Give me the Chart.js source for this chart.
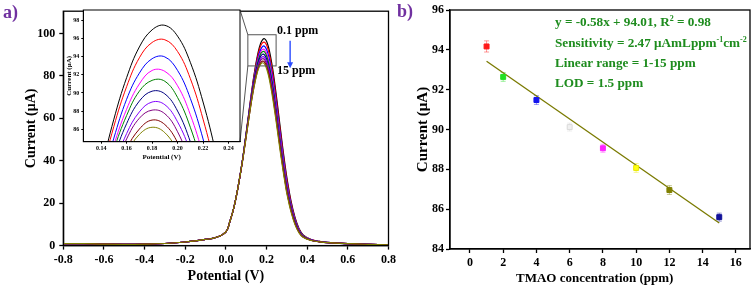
<!DOCTYPE html>
<html lang="en">
<head>
<meta charset="UTF-8">
<title>TMAO - DPV and calibration</title>
<script src="https://cdn.jsdelivr.net/npm/chart.js@4"></script>
<style>
  body { margin: 0; width: 755px; height: 291px; background: #fff; position: relative; overflow: hidden;
         font-family: 'Liberation Serif', 'Times New Roman', serif; font-weight: bold; }
  canvas { position: absolute; }
  .txt { position: absolute; white-space: nowrap; line-height: 14px; font-size: 12px; }
  .panel { position: absolute; color: #7030a0; font-size: 18px; line-height: 20px; }
  .fit { color: #1e8c1e; font-size: 13.2px; }
  sup { font-size: 8px; vertical-align: 5px; line-height: 0; }
</style>
</head>
<body>
<canvas id="dpv" width="410" height="291" style="left:0;top:0"></canvas>
<canvas id="calib" width="360" height="291" style="left:395px;top:0"></canvas>
<canvas id="zoom" width="186" height="158" style="left:64px;top:4px"></canvas>

<div class="panel" style="left:3px;top:2px">a)</div>
<div class="panel" style="left:397px;top:1px">b)</div>
<div class="txt" style="left:277px;top:23px">0.1 ppm</div>
<div class="txt" style="left:277px;top:63px">15 ppm</div>
<div class="txt fit" style="left:555px;top:15px">y = -0.58x + 94.01, R<sup>2</sup> = 0.98</div>
<div class="txt fit" style="left:555px;top:36px">Sensitivity = 2.47 &mu;AmLppm<sup>-1</sup>cm<sup>-2</sup></div>
<div class="txt fit" style="left:555px;top:56px">Linear range = 1-15 ppm</div>
<div class="txt fit" style="left:555px;top:76px">LOD = 1.5 ppm</div>
<div class="txt" style="left:516px;top:271px;font-size:13px">TMAO concentration (ppm)</div>

<script>
// ---------------- panel a : DPV curves ----------------
const potential = [-0.8,-0.7,-0.6,-0.5,-0.4,-0.3,-0.2,-0.15,-0.1,-0.05,0,0.02,0.04,0.06,
  0.08,0.09,0.1,0.11,0.12,0.13,0.14,0.15,0.16,0.17,0.18,0.19,0.2,0.21,0.22,0.23,0.24,0.25,0.26,0.27,0.28,0.29,0.3,
  0.32,0.34,0.36,0.38,0.42,0.46,0.5,0.6,0.7,0.8];

const curveBlack = [0.9,0.9,0.7,0.6,0.7,1.0,1.7,2.2,2.9,3.8,6.5,11.5,18.3,27.7,
  39.2,46.0,53.3,60.6,67.9,75.0,81.4,87.1,91.7,95.1,97.0,97.5,96.3,93.4,89.0,83.4,76.7,69.3,61.5,53.6,45.9,38.7,32.0,
  21.2,13.3,8.0,5.0,2.8,2.0,1.5,0.9,0.6,0.4];
const curveRed = [0.9,0.9,0.7,0.6,0.7,1.0,1.7,2.2,2.9,3.8,6.5,11.5,18.3,27.7,
  39.2,46.0,53.2,60.4,67.6,74.5,80.8,86.3,90.7,93.9,95.6,95.9,94.6,91.6,87.1,81.5,74.8,67.5,59.8,52.0,44.5,37.4,30.9,
  20.4,12.8,7.7,4.8,2.8,2.0,1.5,0.9,0.6,0.4];
const curveBlue = [0.9,0.9,0.7,0.6,0.7,1.0,1.7,2.2,2.9,3.8,6.5,11.5,18.3,27.7,
  39.1,45.8,52.8,59.9,67.0,73.7,79.8,85.0,89.3,92.2,93.8,94.0,92.5,89.4,84.9,79.2,72.6,65.4,57.8,50.3,42.9,36.0,29.6,
  19.6,12.3,7.4,4.7,2.7,2.0,1.5,0.9,0.6,0.4];
const curveMagenta = [0.9,0.9,0.7,0.6,0.7,1.0,1.7,2.2,2.9,3.8,6.5,11.5,18.3,27.7,
  39.2,45.8,52.7,59.7,66.6,73.2,79.1,84.2,88.2,91.0,92.5,92.4,90.8,87.6,83.1,77.4,70.8,63.6,56.2,48.8,41.5,34.8,28.6,
  19.0,11.9,7.2,4.6,2.7,1.9,1.4,0.9,0.6,0.4];
const curveGreen = [0.9,0.9,0.7,0.6,0.7,1.0,1.7,2.2,2.9,3.8,6.5,11.5,18.3,27.7,
  39.3,45.9,52.8,59.7,66.5,72.9,78.7,83.7,87.5,90.2,91.4,91.3,89.5,86.2,81.6,75.9,69.3,62.2,54.8,47.4,40.4,33.7,27.7,
  18.5,11.6,7.0,4.5,2.6,1.9,1.4,0.9,0.6,0.4];
const curveNavy = [0.9,0.9,0.7,0.6,0.7,1.0,1.7,2.2,2.9,3.8,6.5,11.5,18.3,27.7,
  39.4,46.0,52.7,59.6,66.2,72.5,78.2,82.9,86.6,89.1,90.2,89.9,88.0,84.6,80.0,74.2,67.7,60.6,53.3,46.1,39.1,32.6,26.8,
  17.9,11.2,6.8,4.3,2.6,1.9,1.4,0.9,0.6,0.4];
const curveViolet = [0.9,0.9,0.7,0.6,0.7,1.0,1.7,2.2,2.9,3.8,6.5,11.5,18.3,27.7,
  38.9,45.3,52.0,58.8,65.4,71.5,77.1,81.8,85.5,87.9,89.0,88.7,86.8,83.5,78.9,73.2,66.8,59.8,52.6,45.5,38.6,32.2,26.4,
  17.5,10.9,6.6,4.2,2.5,1.8,1.4,0.9,0.6,0.4];
const curvePurple = [0.9,0.9,0.7,0.6,0.7,1.0,1.7,2.2,2.9,3.8,6.5,11.5,18.3,27.7,
  39.1,45.5,52.1,58.8,65.3,71.4,76.8,81.4,84.9,87.2,88.1,87.7,85.7,82.2,77.5,71.8,65.4,58.4,51.3,44.3,37.5,31.3,25.6,
  17.0,10.6,6.4,4.1,2.5,1.8,1.4,0.9,0.6,0.4];
const curveWine = [0.9,0.9,0.7,0.6,0.7,1.0,1.7,2.2,2.9,3.8,6.5,11.5,18.3,27.7,
  38.6,44.9,51.5,58.0,64.4,70.4,75.8,80.3,83.8,86.0,87.0,86.5,84.5,81.1,76.5,70.9,64.5,57.7,50.7,43.7,37.1,30.9,25.2,
  16.6,10.3,6.2,4.0,2.4,1.8,1.4,0.9,0.6,0.4];
const curveOlive = [0.9,0.9,0.7,0.6,0.7,1.0,1.7,2.2,2.9,3.8,6.5,11.5,18.3,27.7,
  38.9,45.1,51.6,58.1,64.5,70.4,75.6,80.0,83.3,85.4,86.2,85.6,83.5,80.0,75.3,69.6,63.3,56.5,49.5,42.6,36.1,30.0,24.5,
  16.0,9.9,6.0,3.9,2.4,1.8,1.4,0.9,0.6,0.4];

const curves = [curveBlack, curveRed, curveBlue, curveMagenta, curveGreen,
                curveNavy, curveViolet, curvePurple, curveWine, curveOlive];
const curveColors = ['#000000','#ff0000','#0000ff','#ff00ff','#008000',
                     '#000080','#8000ff','#800080','#800000','#808000'];

const potTicks = [-0.8,-0.6,-0.4,-0.2,0,0.2,0.4,0.6,0.8];
const curTicks = [0,20,40,60,80,100];
const insetPotTicks = [0.14,0.16,0.18,0.2,0.22,0.24];
const insetCurTicks = [86,88,90,92,94,96,98];
const zoomBoxV = [0.108, 0.247];   // region shown in the inset
const zoomBoxI = [84.7, 99.4];
const arrowV = 0.316, arrowI = [96.6, 83.6];

// ---------------- panel b : calibration ----------------
const concPpm = [1, 2, 4, 6, 8, 10, 12, 15];
const peakCurrent = [94.17, 92.64, 91.48, 90.12, 89.06, 88.07, 86.96, 85.6];
const errCurrent = [0.28, 0.22, 0.22, 0.2, 0.2, 0.22, 0.22, 0.2];
const pointColors = ['#ff1a1a','#22e022','#1414ee','#f0f0f0','#ff22ff','#ffff10','#808000','#12129a'];
const pointEdges  = ['#ff1a1a','#22e022','#1414ee','#dadada','#ff22ff','#e8e800','#808000','#12129a'];
const fitX = [1, 15];
const fitY = [93.43, 85.31];
const concTicks = [0,2,4,6,8,10,12,14,16];
const calTicks = [84,86,88,90,92,94,96];

const serif = "'Liberation Serif', 'Times New Roman', serif";
const toXY = (xs, ys) => xs.map((v, i) => ({x: v, y: ys[i]}));
const setTicks = list => scale => { scale.ticks = list.map(v => ({value: v})); };

const framePlugin = {
  id: 'frame',
  afterDraw(chart) {
    const {ctx, chartArea: a} = chart;
    ctx.save();
    ctx.strokeStyle = '#000';
    ctx.lineWidth = chart.canvas.id === 'zoom' ? 1 : 1.3;
    ctx.strokeRect(a.left, a.top, a.right - a.left, a.bottom - a.top);
    ctx.restore();
  }
};

function axisOpts(o) {
  return {
    type: 'linear', min: o.min, max: o.max,
    afterBuildTicks: setTicks(o.ticks),
    afterFit: s => { if (o.w) s.width = o.w; if (o.h) s.height = o.h; },
    grid: {drawOnChartArea: false, drawTicks: true, tickLength: o.tl, color: '#000', tickWidth: o.lw},
    border: {display: true, color: '#000', width: o.lw},
    ticks: {color: '#000', padding: o.pad, font: {family: serif, size: o.fs, weight: 'bold'},
            maxRotation: 0, autoSkip: false, callback: o.fmt},
    title: {display: !!o.title, text: o.title, color: '#000',
            font: {family: serif, size: o.tfs, weight: 'bold'}, padding: o.tpad}
  };
}

const marksPlugin = {
  id: 'marks',
  afterDatasetsDraw(chart) {
    const {ctx, scales: {x, y}} = chart;
    ctx.save();
    const x1 = x.getPixelForValue(zoomBoxV[0]), x2 = x.getPixelForValue(zoomBoxV[1]);
    const y1 = y.getPixelForValue(zoomBoxI[1]), y2 = y.getPixelForValue(zoomBoxI[0]);
    ctx.strokeStyle = '#555'; ctx.lineWidth = 1;
    ctx.strokeRect(x1, y1, x2 - x1, y2 - y1);
    const ax = x.getPixelForValue(arrowV);
    const ya = y.getPixelForValue(arrowI[0]), yb = y.getPixelForValue(arrowI[1]);
    ctx.strokeStyle = '#2b4cff'; ctx.fillStyle = '#2b4cff'; ctx.lineWidth = 1.4;
    ctx.beginPath(); ctx.moveTo(ax, ya); ctx.lineTo(ax, yb - 5); ctx.stroke();
    ctx.beginPath(); ctx.moveTo(ax - 3, yb - 6); ctx.lineTo(ax + 3, yb - 6); ctx.lineTo(ax, yb); ctx.closePath(); ctx.fill();
    ctx.restore();
  }
};

const dpvChart = new Chart(document.getElementById('dpv'), {
  type: 'scatter',
  data: {
    datasets: curves.map((c, i) => ({
      label: 'scan ' + (i + 1), data: toXY(potential, c), showLine: true,
      borderColor: curveColors[i], borderWidth: 1.2, pointRadius: 0, tension: 0.4, order: 9 - i
    }))
  },
  options: {
    responsive: false, animation: false, devicePixelRatio: 1,
    layout: {padding: {top: 7, right: 21.5, left: 0, bottom: 0}},
    plugins: {legend: {display: false}, tooltip: {enabled: false}},
    scales: {
      x: axisOpts({min: -0.8, max: 0.8, ticks: potTicks, h: 45.4, tl: 4, pad: 3, fs: 12, lw: 1.3,
                   fmt: v => v.toFixed(1), title: 'Potential (V)', tfs: 14, tpad: {top: 0, bottom: 6}}),
      y: axisOpts({min: 0, max: 110.5, ticks: curTicks, w: 63.3, tl: 4, pad: 4, fs: 12, lw: 1.3,
                   fmt: v => v, title: 'Current (\u03bcA)', tfs: 14, tpad: {top: 23, bottom: 0}})
    }
  },
  plugins: [framePlugin, marksPlugin]
});

// inset
const insetLeft = 64, insetTop = 4;
const insetPlugin = {
  id: 'inset',
  beforeDraw(chart) {
    const {ctx, chartArea: a} = chart;
    ctx.save(); ctx.fillStyle = '#fff';
    ctx.fillRect(a.left, a.top, a.right - a.left, a.bottom - a.top);
    ctx.restore();
  },
  afterDraw(chart) {
    const {ctx, chartArea: a} = chart;
    const mx = dpvChart.scales.x, my = dpvChart.scales.y;
    const bx = mx.getPixelForValue(zoomBoxV[0]) - insetLeft;
    const bt = my.getPixelForValue(zoomBoxI[1]) - insetTop;
    const bb = my.getPixelForValue(zoomBoxI[0]) - insetTop;
    ctx.save(); ctx.strokeStyle = '#555'; ctx.lineWidth = 1;
    ctx.beginPath();
    ctx.moveTo(a.right, a.top); ctx.lineTo(bx, bt);
    ctx.moveTo(a.right, a.bottom); ctx.lineTo(bx, bb);
    ctx.stroke(); ctx.restore();
  }
};

new Chart(document.getElementById('zoom'), {
  type: 'scatter',
  data: {
    datasets: curves.map((c, i) => ({
      data: toXY(potential, c), showLine: true,
      borderColor: curveColors[i], borderWidth: 1, pointRadius: 0, tension: 0.4
    }))
  },
  options: {
    responsive: false, animation: false, devicePixelRatio: 1,
    layout: {padding: {top: 6, right: 10, left: 0, bottom: 0}},
    plugins: {legend: {display: false}, tooltip: {enabled: false}},
    scales: {
      x: axisOpts({min: 0.126, max: 0.249, ticks: insetPotTicks, h: 20.3, tl: 2, pad: 1, fs: 6, lw: 1,
                   fmt: v => v.toFixed(2), title: 'Potential (V)', tfs: 7, tpad: {top: 0, bottom: 1}}),
      y: axisOpts({min: 84.6, max: 99.2, ticks: insetCurTicks, w: 19.3, tl: 2, pad: 2, fs: 6, lw: 1,
                   fmt: v => v, title: 'Current (\u03bcA)', tfs: 7, tpad: {top: 1, bottom: 0}})
    }
  },
  plugins: [insetPlugin, framePlugin]
});

// calibration
const errorBarPlugin = {
  id: 'errbars',
  beforeDatasetsDraw(chart) {
    const {ctx, scales: {x, y}} = chart;
    ctx.save(); ctx.lineWidth = 1; ctx.globalAlpha = 0.45;
    concPpm.forEach((c, i) => {
      const px = x.getPixelForValue(c);
      const yt = y.getPixelForValue(peakCurrent[i] + errCurrent[i]);
      const yb = y.getPixelForValue(peakCurrent[i] - errCurrent[i]);
      ctx.strokeStyle = pointEdges[i];
      ctx.beginPath();
      ctx.moveTo(px, yt); ctx.lineTo(px, yb);
      ctx.moveTo(px - 2.5, yt); ctx.lineTo(px + 2.5, yt);
      ctx.moveTo(px - 2.5, yb); ctx.lineTo(px + 2.5, yb);
      ctx.stroke();
    });
    ctx.restore();
  }
};

new Chart(document.getElementById('calib'), {
  type: 'scatter',
  data: {
    datasets: [
      {label: 'fit', data: toXY(fitX, fitY), showLine: true, borderColor: '#7a7a00', borderWidth: 1.3,
       pointRadius: 0, order: 1},
      {label: 'peak current', data: toXY(concPpm, peakCurrent), pointStyle: 'rect', pointRadius: 3.5,
       backgroundColor: pointColors, borderColor: pointEdges, borderWidth: 1, order: 0}
    ]
  },
  options: {
    responsive: false, animation: false, devicePixelRatio: 1,
    layout: {padding: {top: 10, right: 4, left: 0, bottom: 0}},
    plugins: {legend: {display: false}, tooltip: {enabled: false}},
    scales: {
      x: axisOpts({min: -1.2, max: 16.85, ticks: concTicks, h: 42, tl: 4, pad: 3, fs: 12, lw: 1.3,
                   fmt: v => v}),
      y: axisOpts({min: 84, max: 96, ticks: calTicks, w: 55, tl: 4, pad: 2, fs: 12, lw: 1.3,
                   fmt: v => v, title: 'Current (\u03bcA)', tfs: 15, tpad: {top: 19, bottom: 0}})
    }
  },
  plugins: [errorBarPlugin, framePlugin]
});
</script>
</body>
</html>
